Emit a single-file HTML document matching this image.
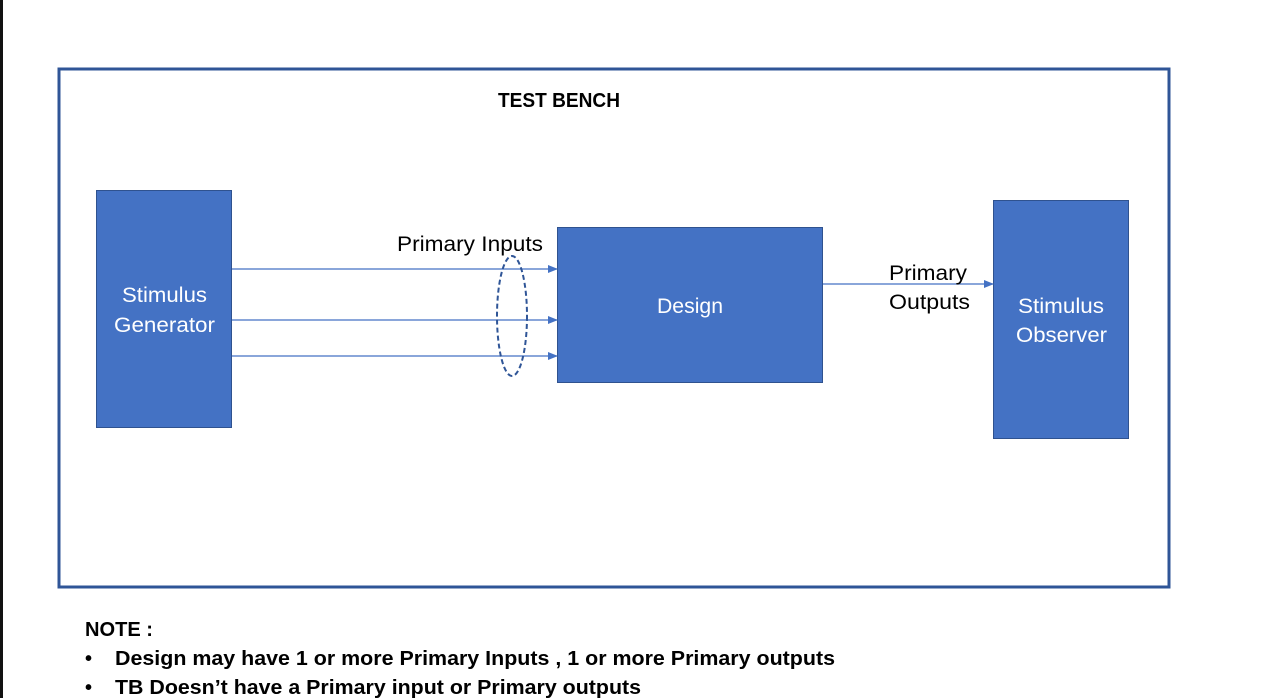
<!DOCTYPE html>
<html><head><meta charset="utf-8"><style>
html,body{margin:0;padding:0;background:#fff;width:1288px;height:698px;overflow:hidden}
svg{display:block}
text{font-family:"Liberation Sans",sans-serif}
</style></head><body>
<svg width="1288" height="698" viewBox="0 0 1288 698" xmlns="http://www.w3.org/2000/svg">
<defs>
<marker id="a" markerWidth="10" markerHeight="8" refX="9" refY="4" orient="auto" markerUnits="userSpaceOnUse">
<path d="M0,0 L10,4 L0,8 z" fill="#4472C4"/></marker>
</defs>
<rect x="0" y="0" width="3" height="698" fill="#111"/>
<rect x="59" y="69" width="1110" height="518" fill="none" stroke="#2F5597" stroke-width="3"/>
<text x="498" y="107" font-size="20" font-weight="bold" fill="#000" textLength="122" lengthAdjust="spacingAndGlyphs">TEST BENCH</text>
<rect x="96.5" y="190.5" width="135" height="237" fill="#4472C4" stroke="#2F528F"/>
<rect x="557.5" y="227.5" width="265" height="155" fill="#4472C4" stroke="#2F528F"/>
<rect x="993.5" y="200.5" width="135" height="238" fill="#4472C4" stroke="#2F528F"/>
<text x="122" y="302" font-size="21" fill="#fff" textLength="85" lengthAdjust="spacingAndGlyphs">Stimulus</text>
<text x="114" y="332" font-size="21" fill="#fff" textLength="101" lengthAdjust="spacingAndGlyphs">Generator</text>
<text x="657" y="313" font-size="21" fill="#fff" textLength="66" lengthAdjust="spacingAndGlyphs">Design</text>
<text x="1018" y="313" font-size="21" fill="#fff" textLength="86" lengthAdjust="spacingAndGlyphs">Stimulus</text>
<text x="1016" y="342" font-size="21" fill="#fff" textLength="91" lengthAdjust="spacingAndGlyphs">Observer</text>
<g stroke="#4472C4" stroke-width="1.3">
<line x1="232" y1="269" x2="557" y2="269" marker-end="url(#a)"/>
<line x1="232" y1="320" x2="557" y2="320" marker-end="url(#a)"/>
<line x1="232" y1="356" x2="557" y2="356" marker-end="url(#a)"/>
<line x1="823" y1="284" x2="993" y2="284" marker-end="url(#a)"/>
</g>
<ellipse cx="512" cy="316" rx="15" ry="60" fill="none" stroke="#2F5597" stroke-width="2" stroke-dasharray="5,3"/>
<text x="397" y="251" font-size="21" fill="#000" textLength="146" lengthAdjust="spacingAndGlyphs">Primary Inputs</text>
<text x="889" y="280" font-size="21" fill="#000" textLength="78" lengthAdjust="spacingAndGlyphs">Primary</text>
<text x="889" y="309" font-size="21" fill="#000" textLength="81" lengthAdjust="spacingAndGlyphs">Outputs</text>
<text x="85" y="636" font-size="20" font-weight="bold" fill="#000" textLength="68" lengthAdjust="spacingAndGlyphs">NOTE :</text>
<text x="85" y="665" font-size="20" font-weight="bold" fill="#000">•</text>
<text x="115" y="665" font-size="20" font-weight="bold" fill="#000" textLength="720" lengthAdjust="spacingAndGlyphs">Design may have 1 or more Primary Inputs , 1 or more Primary outputs</text>
<text x="85" y="694" font-size="20" font-weight="bold" fill="#000">•</text>
<text x="115" y="694" font-size="20" font-weight="bold" fill="#000" textLength="526" lengthAdjust="spacingAndGlyphs">TB Doesn’t have a Primary input or Primary outputs</text>
</svg>
</body></html>
